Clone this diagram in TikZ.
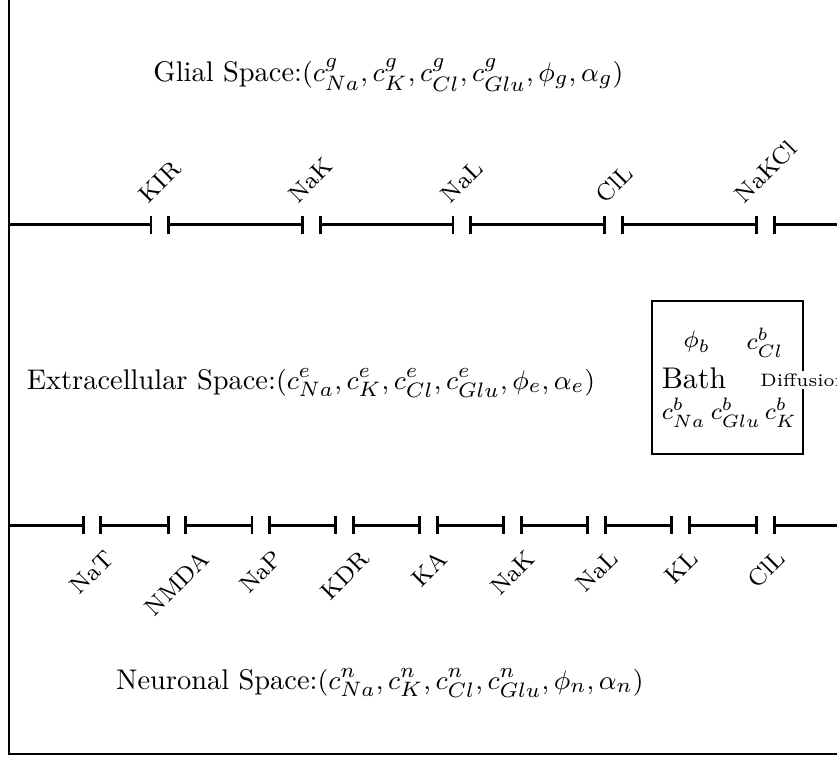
\documentclass[tikz,border=0pt]{standalone}
\usepackage{amsmath}
\usepackage{graphicx}
\usetikzlibrary{arrows.meta}
\newcommand{\chan}[1]{\rotatebox{45}{#1}}
\newcommand{\halfgap}{0.088}
\tikzset{
    pore/.tip={Bar[width=6pt]},
    membrane/.style={line width=1pt, pore-pore},
    space/.style={inner sep=0pt, font=\fontsize{9.5pt}{11pt}\selectfont},
    chanlabel/.style={font=\footnotesize, inner sep=0pt},
    bathbox/.style={draw, rectangle, minimum width=1.774cm, minimum height=1.798cm, inner sep=0pt},
    bathvar/.style={font=\footnotesize, inner sep=0pt},
    flux/.style={font=\fontsize{6pt}{7pt}\selectfont, fill=white, inner sep=1pt}
}
\begin{document}
\begin{tikzpicture}
    \useasboundingbox (-0.106,-0.035) rectangle (9.73,8.86);
    \clip (-0.106,-0.035) rectangle (9.73,8.86);

    % frame, cut at top and right
    \coordinate (ftop) at (0,9.5);
    \coordinate (fcorner) at (0,0);
    \coordinate (fright) at (10.5,0);
    \draw (ftop) -- (fcorner) -- (fright);

    % compartments
    \node[space] (glial) at (4.459,7.978) {Glial Space:$(c^g_{Na}, c^g_K, c^g_{Cl}, c^g_{Glu}, \phi_g, \alpha_g)$};
    \node[space] (extra) at (3.549,4.359) {Extracellular Space:$(c^e_{Na}, c^e_K, c^e_{Cl}, c^e_{Glu}, \phi_e, \alpha_e)$};
    \node[space] (neuron) at (4.359,0.834) {Neuronal Space:$(c^n_{Na}, c^n_K, c^n_{Cl}, c^n_{Glu}, \phi_n, \alpha_n)$};

    % glial membrane
    \coordinate (gstart) at (0,6.216);
    \coordinate (gend) at (10.5,6.216);
    \foreach \x/\name [count=\i] in {1.774/KIR, 3.549/NaK, 5.323/NaL, 7.109/ClL, 8.895/NaKCl} {
        \coordinate (gl\i) at (\x-\halfgap,6.216);
        \coordinate (gr\i) at (\x+\halfgap,6.216);
        \node[chanlabel, anchor=south] (gch\i) at (\x,6.451) {\chan{\name}};
    }
    \draw[membrane, -pore] (gstart) -- (gl1);
    \foreach \i [evaluate=\i as \j using int(\i+1)] in {1,...,4}
        \draw[membrane] (gr\i) -- (gl\j);
    \draw[membrane, pore-] (gr5) -- (gend);

    % neuronal membrane
    \coordinate (nstart) at (0,2.69);
    \coordinate (nend) at (10.5,2.69);
    \foreach \x/\name [count=\i] in {0.975/NaT, 1.974/NMDA, 2.961/NaP, 3.948/KDR, 4.935/KA, 5.922/NaK, 6.909/NaL, 7.896/KL, 8.895/ClL} {
        \coordinate (nl\i) at (\x-\halfgap,2.69);
        \coordinate (nr\i) at (\x+\halfgap,2.69);
        \node[chanlabel, anchor=north] (nch\i) at (\x,2.42) {\chan{\name}};
    }
    \draw[membrane, -pore] (nstart) -- (nl1);
    \foreach \i [evaluate=\i as \j using int(\i+1)] in {1,...,8}
        \draw[membrane] (nr\i) -- (nl\j);
    \draw[membrane, pore-] (nr9) -- (nend);

    % bath
    \node[bathbox] (bath) at (8.443,4.424) {};
    \node (bathname) at (8.049,4.418) {Bath};
    \node[bathvar] (phib) at (8.084,4.841) {$\phi_b$};
    \node[bathvar] (clb) at (8.883,4.829) {$c^b_{Cl}$};
    \node[bathvar] (nab) at (7.931,4.007) {$c^b_{Na}$};
    \node[bathvar] (glub) at (8.542,4.007) {$c^b_{Glu}$};
    \node[bathvar] (kb) at (9.071,4.007) {$c^b_K$};
    \node[flux] (diff) at ([yshift=-0.03cm]bath.east) {Diffusion};
\end{tikzpicture}
\end{document}
